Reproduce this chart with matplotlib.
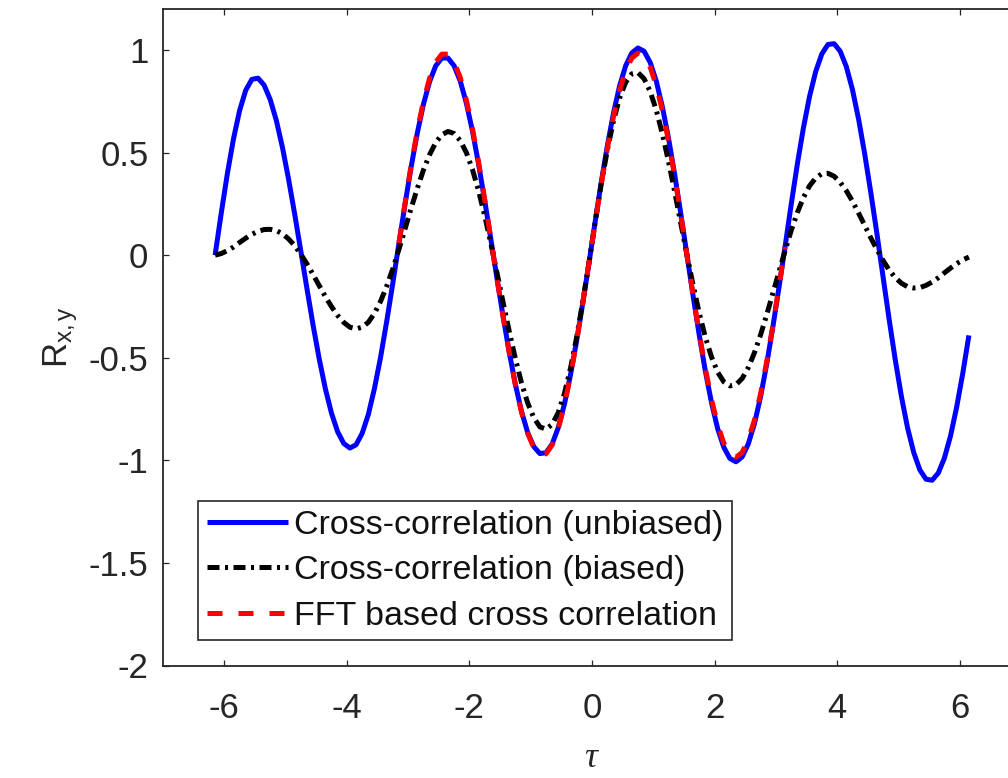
import numpy as np
import matplotlib
matplotlib.use("Agg")
import matplotlib.pyplot as plt

# lag axis (tau), -6.15 .. 6.15 in steps of 0.1
tau = np.round(np.arange(-6.15, 6.16, 0.1), 2)

# cross-correlation (unbiased)
r_unbiased = [
    0.000, 0.204, 0.397, 0.567, 0.705, 0.804, 0.857, 0.863, 0.829, 0.758,
    0.656, 0.524, 0.369, 0.198, 0.018, -0.165, -0.343, -0.507, -0.652, -0.771,
    -0.861, -0.918, -0.940, -0.924, -0.868, -0.777, -0.650, -0.498, -0.323, -0.136,
    0.058, 0.250, 0.432, 0.596, 0.736, 0.846, 0.923, 0.961, 0.961, 0.923,
    0.849, 0.741, 0.604, 0.443, 0.265, 0.077, -0.114, -0.300, -0.474, -0.630,
    -0.762, -0.864, -0.933, -0.967, -0.963, -0.920, -0.840, -0.726, -0.582, -0.416,
    -0.232, -0.039, 0.160, 0.354, 0.533, 0.692, 0.825, 0.924, 0.986, 1.010,
    0.994, 0.939, 0.847, 0.721, 0.568, 0.392, 0.200, 0.000, -0.199, -0.390,
    -0.566, -0.719, -0.845, -0.936, -0.991, -1.007, -0.983, -0.920, -0.822, -0.691,
    -0.532, -0.352, -0.159, 0.041, 0.247, 0.443, 0.621, 0.774, 0.895, 0.981,
    1.027, 1.031, 0.994, 0.919, 0.807, 0.663, 0.493, 0.304, 0.103, -0.107,
    -0.316, -0.513, -0.691, -0.843, -0.962, -1.047, -1.092, -1.097, -1.062, -0.989,
    -0.881, -0.741, -0.576, -0.391,
]

# cross-correlation (biased)
r_biased = [
    0.000, 0.008, 0.022, 0.040, 0.062, 0.083, 0.102, 0.116, 0.125, 0.126,
    0.120, 0.104, 0.079, 0.046, 0.004, -0.043, -0.095, -0.149, -0.202, -0.251,
    -0.294, -0.328, -0.351, -0.359, -0.351, -0.327, -0.284, -0.225, -0.151, -0.066,
    0.029, 0.129, 0.230, 0.326, 0.415, 0.490, 0.549, 0.587, 0.603, 0.593,
    0.559, 0.500, 0.417, 0.313, 0.191, 0.057, -0.086, -0.231, -0.372, -0.505,
    -0.623, -0.720, -0.792, -0.837, -0.848, -0.825, -0.767, -0.674, -0.550, -0.399,
    -0.226, -0.039, 0.159, 0.346, 0.512, 0.654, 0.766, 0.843, 0.884, 0.890,
    0.860, 0.797, 0.706, 0.589, 0.455, 0.308, 0.154, 0.000, -0.147, -0.282,
    -0.400, -0.496, -0.570, -0.617, -0.637, -0.631, -0.601, -0.548, -0.476, -0.389,
    -0.291, -0.187, -0.082, 0.021, 0.120, 0.207, 0.281, 0.338, 0.376, 0.397,
    0.399, 0.385, 0.355, 0.314, 0.263, 0.205, 0.145, 0.084, 0.027, -0.026,
    -0.073, -0.110, -0.137, -0.154, -0.160, -0.158, -0.147, -0.131, -0.110, -0.086,
    -0.063, -0.041, -0.023, -0.009,
]

# FFT based cross correlation, only over -3.15 .. 3.15
r_fft = [
    0.059, 0.255, 0.441, 0.608, 0.750, 0.863, 0.941, 0.980, 0.980, 0.941,
    0.866, 0.756, 0.616, 0.452, 0.270, 0.079, -0.115, -0.302, -0.476, -0.633,
    -0.766, -0.868, -0.938, -0.972, -0.968, -0.925, -0.844, -0.730, -0.585, -0.418,
    -0.233, -0.039, 0.156, 0.345, 0.520, 0.675, 0.804, 0.901, 0.961, 0.985,
    0.969, 0.916, 0.826, 0.703, 0.554, 0.382, 0.195, 0.000, -0.195, -0.381,
    -0.554, -0.703, -0.826, -0.915, -0.969, -0.985, -0.961, -0.900, -0.804, -0.676,
    -0.520, -0.344, -0.156, 0.040,
]
tau_fft = tau[30:30 + len(r_fft)]

xticks = [-6, -4, -2, 0, 2, 4, 6]
yticks = [-2, -1.5, -1, -0.5, 0, 0.5, 1]

dark = "#262626"
plt.rcParams["font.family"] = ["Liberation Sans", "DejaVu Sans"]
plt.rcParams["mathtext.fontset"] = "custom"
plt.rcParams["mathtext.rm"] = "Liberation Sans"
plt.rcParams["mathtext.it"] = "Liberation Serif:italic"

fig = plt.figure(figsize=(10.08, 7.78), dpi=100)
ax = fig.add_axes([163 / 1008, 112.5 / 778, 858 / 1008, 656.5 / 778])

ax.plot(tau, r_unbiased, color="#0000ff", lw=3.6, solid_capstyle="butt",
        label="Cross-correlation (unbiased)")
ax.plot(tau, r_biased, color="black", lw=3.6, linestyle=(0, (2.4, 1.1, 0.6, 1.1)),
        label="Cross-correlation (biased)")
ax.plot(tau_fft, r_fft, color="#ff0000", lw=3.6, linestyle=(0, (3.0, 3.2)),
        label="FFT based cross correlation")

ax.set_xlim(-7, 7)
ax.set_ylim(-2, 1.2)
ax.set_xticks(xticks)
ax.set_xticklabels([str(v) for v in xticks])
ax.set_yticks(yticks)
ax.set_yticklabels([f"{v:g}" for v in yticks])

for s in ax.spines.values():
    s.set_linewidth(1.3)
    s.set_color(dark)
ax.tick_params(direction="in", top=True, right=True, length=4.5, width=0.9,
               color=dark, labelcolor=dark, labelsize=25)
ax.tick_params(axis="x", pad=19)
ax.tick_params(axis="y", pad=10.5)

ax.set_xlabel(r"$\tau$", fontsize=26, color=dark, labelpad=11)
ax.set_ylabel(r"$\mathrm{R}_{\mathrm{x,y}}$", fontsize=25, color=dark, labelpad=6)

leg = ax.legend(loc="lower left", bbox_to_anchor=(0.0408, 0.0388), borderaxespad=0,
                fontsize=24.5, handlelength=2.4, handletextpad=0.18, labelspacing=0.42,
                borderpad=0.25, fancybox=False, framealpha=1, edgecolor=dark)
leg.get_frame().set_linewidth(1.2)
for t in leg.get_texts():
    t.set_color("#111111")

fig.savefig("out.png", dpi=100)
